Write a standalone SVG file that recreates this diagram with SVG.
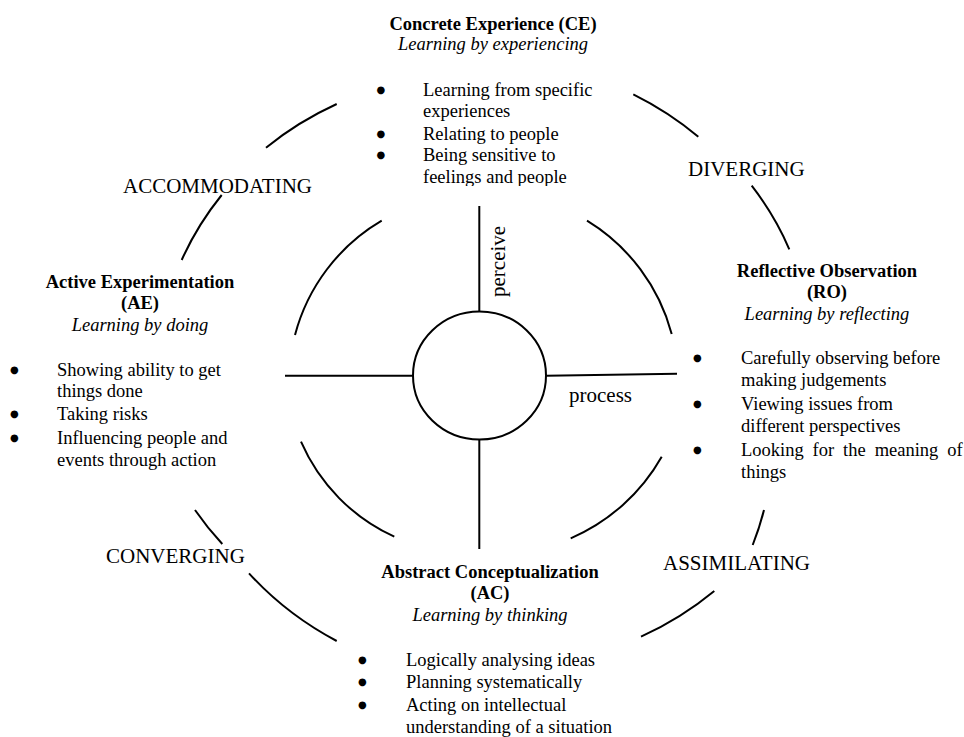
<svg xmlns="http://www.w3.org/2000/svg" width="964" height="737" viewBox="0 0 964 737">
<style>
text{font-family:"Liberation Serif","Times New Roman",serif;fill:#000}
.t{font-size:18.5px}
.d{font-family:"DejaVu Sans",sans-serif;font-size:10px}
.b{font-size:18.5px;font-weight:bold;text-anchor:middle}
.i{font-size:18.5px;font-style:italic;text-anchor:middle}
.lab{font-size:21px}
.ln{fill:none;stroke:#000;stroke-width:2}
</style>
<defs>
<clipPath id="ceclip"><rect x="300" y="0" width="400" height="186"/></clipPath>
</defs>
<rect width="964" height="737" fill="#fff"/>
<g id="connectors">
<ellipse class="ln" cx="479.5" cy="375.5" rx="66.5" ry="64"/>
<line class="ln" x1="479.3" y1="206" x2="479.3" y2="311.5"/>
<line class="ln" x1="479.3" y1="439.5" x2="479.3" y2="549"/>
<line class="ln" x1="285" y1="375.7" x2="413" y2="375.7"/>
<line class="ln" x1="546" y1="375.7" x2="677" y2="373.7"/>
<path class="ln" d="M295,335 A188,188 0 0 1 381.7,220.7"/>
<path class="ln" d="M587,220.7 A190,190 0 0 1 671.7,334"/>
<path class="ln" d="M661.7,456.7 A192,192 0 0 1 570.7,538.3"/>
<path class="ln" d="M394.3,536.7 A186,186 0 0 1 301,441.7"/>
<path class="ln" d="M181.7,260 A326,300 0 0 1 221.7,195"/>
<path class="ln" d="M266,147.7 A326,300 0 0 1 336.7,104"/>
<path class="ln" d="M633.3,94.3 A326,300 0 0 1 698.3,136.7"/>
<path class="ln" d="M751.7,185.7 A326,300 0 0 1 789.3,249.3"/>
<path class="ln" d="M764,510 A326,300 0 0 1 752.7,545"/>
<path class="ln" d="M714.3,591 A326,300 0 0 1 641,636.7"/>
<path class="ln" d="M336.7,641 A326,300 0 0 1 249,573.3"/>
<path class="ln" d="M222.3,544 A326,300 0 0 1 195,510"/>
</g>
<g id="axis-labels">
<text class="lab" transform="translate(505,297) rotate(-90)">perceive</text>
<text class="lab" x="569" y="402">process</text>
</g>
<g id="style-labels">
<text class="lab" x="123" y="193">ACCOMMODATING</text>
<text class="lab" x="688" y="176">DIVERGING</text>
<text class="lab" x="106" y="563">CONVERGING</text>
<text class="lab" x="663" y="570">ASSIMILATING</text>
</g>
<g id="node-ce">
<text class="b" x="493" y="30">Concrete Experience (CE)</text>
<text class="i" x="493" y="50">Learning by experiencing</text>
<g clip-path="url(#ceclip)">
<text class="d" x="376.5" y="92.5">●</text>
<text class="t" x="423" y="96">Learning from specific</text>
<text class="t" x="423" y="117">experiences</text>
<text class="d" x="376.5" y="136.5">●</text>
<text class="t" x="423" y="140">Relating to people</text>
<text class="d" x="376.5" y="157.5">●</text>
<text class="t" x="423" y="161">Being sensitive to</text>
<text class="t" x="423" y="183">feelings and people</text>
</g>
</g>
<g id="node-ae">
<text class="b" x="140" y="288">Active Experimentation</text>
<text class="b" x="140" y="309">(AE)</text>
<text class="i" x="140" y="331">Learning by doing</text>
<text class="d" x="10" y="372.5">●</text>
<text class="t" x="57" y="376">Showing ability to get</text>
<text class="t" x="57" y="397">things done</text>
<text class="d" x="10" y="416.5">●</text>
<text class="t" x="57" y="420">Taking risks</text>
<text class="d" x="10" y="440.5">●</text>
<text class="t" x="57" y="444">Influencing people and</text>
<text class="t" x="57" y="466">events through action</text>
</g>
<g id="node-ro">
<text class="b" x="827" y="277">Reflective Observation</text>
<text class="b" x="827" y="298">(RO)</text>
<text class="i" x="827" y="320">Learning by reflecting</text>
<text class="d" x="693" y="360.5">●</text>
<text class="t" x="741" y="364">Carefully observing before</text>
<text class="t" x="741" y="386">making judgements</text>
<text class="d" x="693" y="406.5">●</text>
<text class="t" x="741" y="410">Viewing issues from</text>
<text class="t" x="741" y="432">different perspectives</text>
<text class="d" x="693" y="452.5">●</text>
<text class="t" x="741" y="456" word-spacing="4.3">Looking for the meaning of</text>
<text class="t" x="741" y="478">things</text>
</g>
<g id="node-ac">
<text class="b" x="490" y="578">Abstract Conceptualization</text>
<text class="b" x="490" y="599">(AC)</text>
<text class="i" x="490" y="621">Learning by thinking</text>
<text class="d" x="358" y="662.5">●</text>
<text class="t" x="406" y="666">Logically analysing ideas</text>
<text class="d" x="358" y="684.5">●</text>
<text class="t" x="406" y="688">Planning systematically</text>
<text class="d" x="358" y="707.5">●</text>
<text class="t" x="406" y="711">Acting on intellectual</text>
<text class="t" x="406" y="733">understanding of a situation</text>
</g>
</svg>
